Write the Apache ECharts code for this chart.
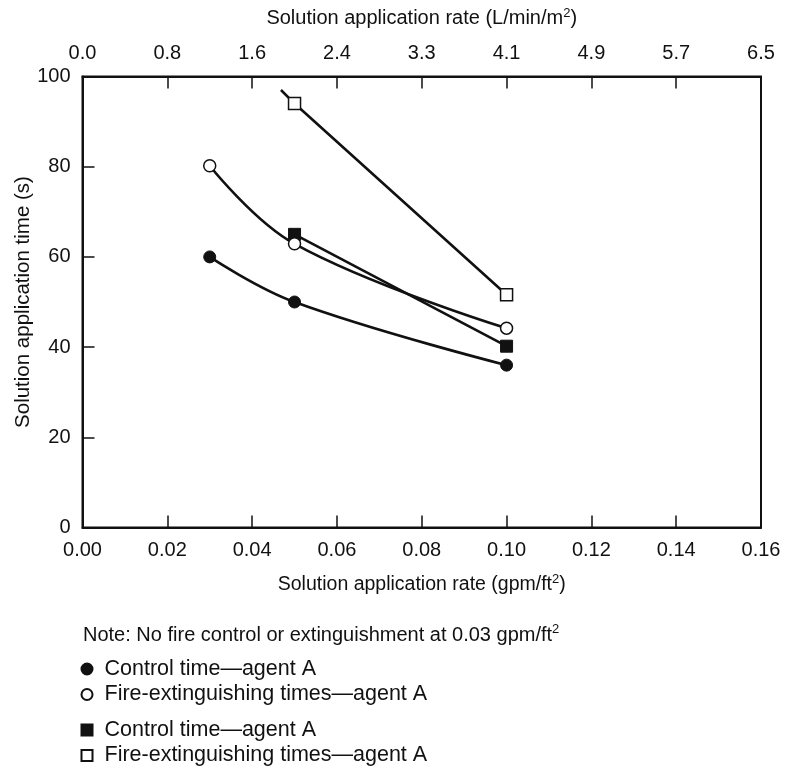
<!DOCTYPE html>
<html>
<head>
<meta charset="utf-8">
<script src="https://cdn.jsdelivr.net/npm/echarts@6/dist/echarts.min.js"></script>
<style>
html,body{margin:0;padding:0;background:#fff;}
#chart{width:789px;height:780px;}
</style>
</head>
<body>
<div id="chart"></div>
<script>
// ---- Data ----
const xTickValues = [0, 0.02, 0.04, 0.06, 0.08, 0.10, 0.12, 0.14, 0.16];
const topTickLabels = ['0.0', '0.8', '1.6', '2.4', '3.3', '4.1', '4.9', '5.7', '6.5'];

const ctrlCircleX = [0.03, 0.05, 0.10];
const ctrlCircleY = [60, 50, 36];

const extCircleX = [0.03, 0.05, 0.10];
const extCircleY = [80.2, 62.9, 44.2];

const ctrlSquareX = [0.05, 0.10];
const ctrlSquareY = [65, 40.2];

// first point is the end of the drawn line (no marker)
const extSquareX = [0.0468, 0.05, 0.10];
const extSquareY = [97, 94, 51.6];

const legendLabels = {
  ctrlCircle: 'Control time\u2014agent A',
  extCircle: 'Fire-extinguishing times\u2014agent A',
  ctrlSquare: 'Control time\u2014agent A',
  extSquare: 'Fire-extinguishing times\u2014agent A'
};

const noteText = 'Note: No fire control or extinguishment at 0.03 gpm/ft';

// ---- Build ----
const INK = '#111111';
const FONT = 'Liberation Sans, Arial, Helvetica, sans-serif';
const zip = (xs, ys) => xs.map((x, i) => [x, ys[i]]);

function supRich(size) {
  return {
    n: { fontSize: size, fontFamily: FONT, color: INK, lineHeight: 24, fontWeight: 'normal' },
    s: { fontSize: 13, fontFamily: FONT, color: INK, verticalAlign: 'top', lineHeight: 24, padding: [0, 0, 9, 0], fontWeight: 'normal' }
  };
}

const filled = { color: INK, borderColor: INK, borderWidth: 1 };
const hollow = { color: '#ffffff', borderColor: INK, borderWidth: 1.5 };

const extSquareData = zip(extSquareX, extSquareY).map((p, i) =>
  i === 0 ? { value: p, symbol: 'none' } : { value: p });

const chart = echarts.init(document.getElementById('chart'), null, { renderer: 'canvas' });

const legendCommon = {
  orient: 'vertical', left: 80.5, itemGap: 3.5, padding: 0,
  itemWidth: 11, itemHeight: 11,
  formatter: n => legendLabels[n],
  selectedMode: false,
  textStyle: { fontSize: 21.5, fontFamily: FONT, color: INK, padding: [0, 0, 0, 7] }
};

const option = {
  backgroundColor: '#ffffff',
  animation: false,
  textStyle: { fontFamily: FONT, color: INK },
  title: {
    left: 83,
    top: 623,
    padding: 0,
    text: '{a|' + noteText + '}{s|2}',
    textStyle: {
      fontWeight: 'normal',
      rich: {
        a: { fontSize: 20, fontFamily: FONT, color: INK, lineHeight: 24, fontWeight: 'normal' },
        s: { fontSize: 13, fontFamily: FONT, color: INK, verticalAlign: 'top', lineHeight: 24, padding: [0, 0, 9, 0], fontWeight: 'normal' }
      }
    }
  },
  grid: {
    left: 82.5, right: 28, top: 76.5, bottom: 252.5,
    outerBoundsMode: 'none', containLabel: false,
    show: true, borderColor: INK, borderWidth: 2, backgroundColor: 'transparent'
  },
  legend: [
    Object.assign({}, legendCommon, {
      top: 658,
      data: [{ name: 'ctrlCircle', icon: 'circle' }, { name: 'extCircle', icon: 'circle' }]
    }),
    Object.assign({}, legendCommon, {
      top: 719,
      data: [{ name: 'ctrlSquare', icon: 'rect' }, { name: 'extSquare', icon: 'rect' }]
    })
  ],
  xAxis: [
    {
      type: 'value', position: 'bottom', min: 0, max: 0.16, interval: 0.02,
      axisLine: { show: true, lineStyle: { color: INK, width: 2 } },
      axisTick: { show: true, inside: true, length: 12, lineStyle: { color: INK, width: 1.5 } },
      splitLine: { show: false },
      axisLabel: {
        margin: 13, fontSize: 20, fontFamily: FONT, color: INK,
        formatter: v => v.toFixed(2)
      },
      name: '{n|Solution application rate (gpm/ft}{s|2}{n|)}',
      nameLocation: 'middle', nameGap: 45, nameMoveOverlap: false,
      nameTextStyle: { rich: supRich(19.5) }
    },
    {
      type: 'value', position: 'top', min: 0, max: 0.16, interval: 0.02,
      axisLine: { show: true, lineStyle: { color: INK, width: 2 } },
      axisTick: { show: true, inside: true, length: 12, lineStyle: { color: INK, width: 1.5 } },
      splitLine: { show: false },
      axisLabel: {
        margin: 13, fontSize: 20, fontFamily: FONT, color: INK,
        formatter: v => topTickLabels[xTickValues.findIndex(t => Math.abs(t - v) < 1e-9)]
      },
      name: '{n|Solution application rate (L/min/m}{s|2}{n|)}',
      nameLocation: 'middle', nameGap: 46, nameMoveOverlap: false,
      nameTextStyle: { rich: supRich(20) }
    }
  ],
  yAxis: {
    type: 'value', min: 0, max: 100, interval: 20,
    axisLine: { show: true, lineStyle: { color: INK, width: 2 } },
    axisTick: { show: true, inside: true, length: 12, lineStyle: { color: INK, width: 1.5 } },
    splitLine: { show: false },
    axisLabel: { margin: 12, fontSize: 20, fontFamily: FONT, color: INK },
    name: 'Solution application time (s)',
    nameLocation: 'middle', nameGap: 49, nameRotate: 90, nameMoveOverlap: false,
    nameTextStyle: { fontSize: 20.5, fontFamily: FONT, color: INK }
  },
  series: [
    {
      name: 'ctrlSquare', type: 'line', xAxisIndex: 0,
      data: zip(ctrlSquareX, ctrlSquareY),
      symbol: 'rect', symbolSize: 12, showAllSymbol: true,
      lineStyle: { color: INK, width: 2.6 }, itemStyle: filled, z: 2
    },
    {
      name: 'extSquare', type: 'line', xAxisIndex: 0,
      data: extSquareData,
      symbol: 'rect', symbolSize: 12, showAllSymbol: true,
      lineStyle: { color: INK, width: 2.6 }, itemStyle: hollow, z: 2
    },
    {
      name: 'ctrlCircle', type: 'line', xAxisIndex: 0,
      data: zip(ctrlCircleX, ctrlCircleY),
      symbol: 'circle', symbolSize: 12, showAllSymbol: true, smooth: 0.4,
      lineStyle: { color: INK, width: 2.6 }, itemStyle: filled, z: 3
    },
    {
      name: 'extCircle', type: 'line', xAxisIndex: 0,
      data: zip(extCircleX, extCircleY),
      symbol: 'circle', symbolSize: 12, showAllSymbol: true, smooth: 0.4,
      lineStyle: { color: INK, width: 2.6 }, itemStyle: hollow, z: 4
    }
  ]
};

chart.setOption(option);
</script>
</body>
</html>
